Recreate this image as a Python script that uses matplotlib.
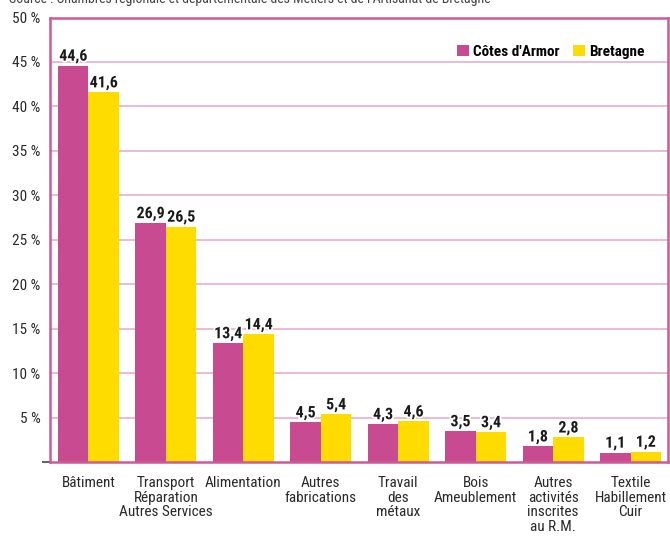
import matplotlib
matplotlib.use("Agg")
import matplotlib.pyplot as plt
import matplotlib.patheffects as pe
from matplotlib import font_manager as fm
import numpy as np

# police étroite si dispo
fonts = fm.fontManager.ttflist
names = {f.name for f in fonts}
cond = [f for f in fonts if f.stretch in ("condensed", "semi-condensed", "extra-condensed")
        or "Narrow" in f.name or "Condensed" in f.name]
if "Liberation Sans Narrow" in names:
    FAM, STRETCH = "Liberation Sans Narrow", "normal"
elif any(f.name == "Roboto Condensed" for f in fonts):
    FAM, STRETCH = "Roboto Condensed", "normal"
elif any(f.name == "DejaVu Sans" and f.stretch == "condensed" for f in fonts):
    FAM, STRETCH = "DejaVu Sans", "condensed"
elif cond:
    FAM, STRETCH = cond[0].name, cond[0].stretch
else:
    FAM, STRETCH = "Liberation Sans", "normal"
plt.rcParams["font.family"] = [FAM, "DejaVu Sans"]
plt.rcParams["font.stretch"] = STRETCH

categories = ["Bâtiment", "Transport\nRéparation\nAutres Services", "Alimentation",
              "Autres\nfabrications", "Travail\ndes\nmétaux", "Bois\nAmeublement",
              "Autres\nactivités\ninscrites\nau R.M.", "Textile\nHabillement\nCuir"]
cotes = [44.6, 26.9, 13.4, 4.5, 4.3, 3.5, 1.8, 1.1]
bretagne = [41.6, 26.5, 14.4, 5.4, 4.6, 3.4, 2.8, 1.2]
yticks = [5, 10, 15, 20, 25, 30, 35, 40, 45, 50]

MAGENTA = "#C84B91"
YELLOW = "#FFDC00"
BORDER = "#D0589A"
GRID = "#EBAED0"

fig = plt.figure(figsize=(6.7, 5.38), dpi=100)
ax = fig.add_axes([50/670, 1 - 462.3/538, 618/670, (462.3 - 17.5)/538])

x = np.arange(len(categories))
w = 0.394
b1 = ax.bar(x - w/2, cotes, w, color=MAGENTA, zorder=2, label="Côtes d'Armor")
b2 = ax.bar(x + w/2, bretagne, w, color=YELLOW, zorder=2, label="Bretagne")

for bars, vals in [(b1, cotes), (b2, bretagne)]:
    for bar, v in zip(bars, vals):
        ax.annotate(f"{v:.1f}".replace(".", ","),
                    (bar.get_x() + bar.get_width()/2, v),
                    xytext=(0, 3.5), textcoords="offset points",
                    ha="center", va="baseline", fontsize=11.5, fontweight="bold",
                    color="#1a1a1a", zorder=4,
                    path_effects=[pe.withStroke(linewidth=2.5, foreground="white")])

ax.set_xlim(-0.497, len(categories) - 0.516)
ax.set_ylim(0, 50)
ax.set_yticks(yticks)
ax.set_yticklabels([f"{t} %" for t in yticks])
ax.set_yticks([0], minor=True)
ax.tick_params(axis="y", which="major", length=0, pad=7, labelsize=11, labelcolor="#2a2a2a")
ax.tick_params(axis="y", which="minor", length=6, width=1.5, color="#666666")
ax.set_xticks(x)
ax.set_xticklabels(categories, linespacing=1.05)
ax.tick_params(axis="x", length=0, pad=10, labelsize=11, labelcolor="#2a2a2a")

ax.yaxis.grid(True, color=GRID, lw=1.2, zorder=0)
ax.set_axisbelow(True)
for s in ax.spines.values():
    s.set_color(BORDER)
    s.set_linewidth(1.8)

ax.legend(loc="upper right", bbox_to_anchor=(0.985, 0.97), frameon=False, ncol=2,
          handlelength=0.75, handleheight=0.75, handletextpad=0.3, columnspacing=0.9,
          prop={"weight": "bold", "size": 11})

fig.text(9/670, 1 - 3/538,
         "Source : Chambres régionale et départementale des Métiers et de l'Artisanat de Bretagne",
         ha="left", va="baseline", fontsize=10, color="#444444")

fig.savefig("out.png", dpi=100)
